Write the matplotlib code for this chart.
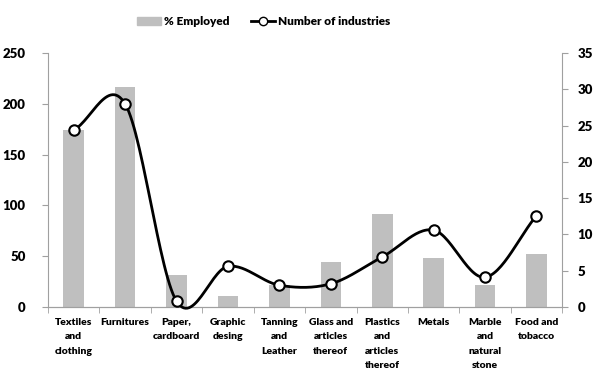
import numpy as np
import matplotlib
matplotlib.use("Agg")
import matplotlib.pyplot as plt
from matplotlib.lines import Line2D
from matplotlib.patches import Patch

categories = ["Textiles\nand\nclothing", "Furnitures", "Paper,\ncardboard", "Graphic\ndesing",
              "Tanning\nand\nLeather", "Glass and\narticles\nthereof", "Plastics\nand\narticles\nthereof",
              "Metals", "Marble\nand\nnatural\nstone", "Food and\ntobacco"]
employed = [174, 217, 32, 11, 22, 44, 92, 48, 22, 52]
industries = [24.4, 28, 0.8, 5.6, 3.0, 3.2, 6.9, 10.6, 4.1, 12.6]
left_ticks = [0, 50, 100, 150, 200, 250]
right_ticks = [0, 5, 10, 15, 20, 25, 30, 35]

W = 'heavy'
plt.rcParams['font.family'] = ['Lato', 'DejaVu Sans']
plt.rcParams['font.weight'] = W

fig = plt.figure(figsize=(6, 3.85), dpi=100)
ax = fig.add_axes([0.08, 0.2026, 0.857, 0.6594])
ax2 = ax.twinx()

x = np.arange(len(categories))
ax.bar(x, employed, width=0.4, color='#bfbfbf', zorder=1)
ax.set_xlim(-0.5, len(categories) - 0.5)
ax.set_ylim(0, 250)
ax.set_yticks(left_ticks)
ax2.set_ylim(0, 35)
ax2.set_yticks(right_ticks)

# smooth curve (Catmull-Rom) through points
def catmull(xs, ys, n=30):
    px = np.concatenate([[2*xs[0]-xs[1]], xs, [2*xs[-1]-xs[-2]]])
    py = np.concatenate([[2*ys[0]-ys[1]], ys, [2*ys[-1]-ys[-2]]])
    outx, outy = [], []
    t = np.linspace(0, 1, n)
    for i in range(1, len(px)-2):
        p0x, p1x, p2x, p3x = px[i-1:i+3]
        p0y, p1y, p2y, p3y = py[i-1:i+3]
        b1x = p1x + (p2x - p0x)/6; b1y = p1y + (p2y - p0y)/6
        b2x = p2x - (p3x - p1x)/6; b2y = p2y - (p3y - p1y)/6
        bx = (1-t)**3*p1x + 3*(1-t)**2*t*b1x + 3*(1-t)*t**2*b2x + t**3*p2x
        by = (1-t)**3*p1y + 3*(1-t)**2*t*b1y + 3*(1-t)*t**2*b2y + t**3*p2y
        outx.extend(bx); outy.extend(by)
    return np.array(outx), np.array(outy)

sx, sy = catmull(x.astype(float), np.array(industries, dtype=float))
ax2.plot(sx, sy, color='black', lw=2.0, zorder=3, clip_on=False)
ax2.plot(x, industries, 'o', ms=7.5, mfc='white', mec='black', mew=1.5, zorder=4, clip_on=False)

ax.set_xticks(x)
ax.set_xticklabels(categories, fontsize=7.5, fontweight=W, linespacing=1.75, va='top')
ax.set_xticks(np.arange(-0.5, len(categories)), minor=True)
ax.tick_params(axis='x', which='major', length=0, pad=8)
ax.tick_params(axis='x', which='minor', length=4, color='#a0a0a0', direction='out')
ax.tick_params(axis='y', length=4, color='#a0a0a0', direction='out', labelsize=9.5, pad=12)
ax2.tick_params(axis='y', length=4, color='#a0a0a0', direction='out', labelsize=9.5, pad=7)
for a in (ax, ax2):
    a.spines['top'].set_visible(False)
    for s in ('left', 'right', 'bottom'):
        a.spines[s].set_color('#a0a0a0')
ax2.spines['left'].set_visible(False)
ax.spines['right'].set_visible(False)
for lbl in ax.get_yticklabels() + ax2.get_yticklabels():
    lbl.set_fontweight(W)

handles = [Patch(color='#bfbfbf'),
           Line2D([0], [0], color='black', lw=2, marker='o', mfc='white', mec='black', ms=6)]
fig.legend(handles, ['% Employed', 'Number of industries'], loc='center', bbox_to_anchor=(0.44, 0.943),
           ncol=2, frameon=False, handlelength=2.0, handletextpad=0.3, columnspacing=1.8,
           prop={'weight': W, 'size': 8.5})

fig.savefig('out.png', dpi=100)
